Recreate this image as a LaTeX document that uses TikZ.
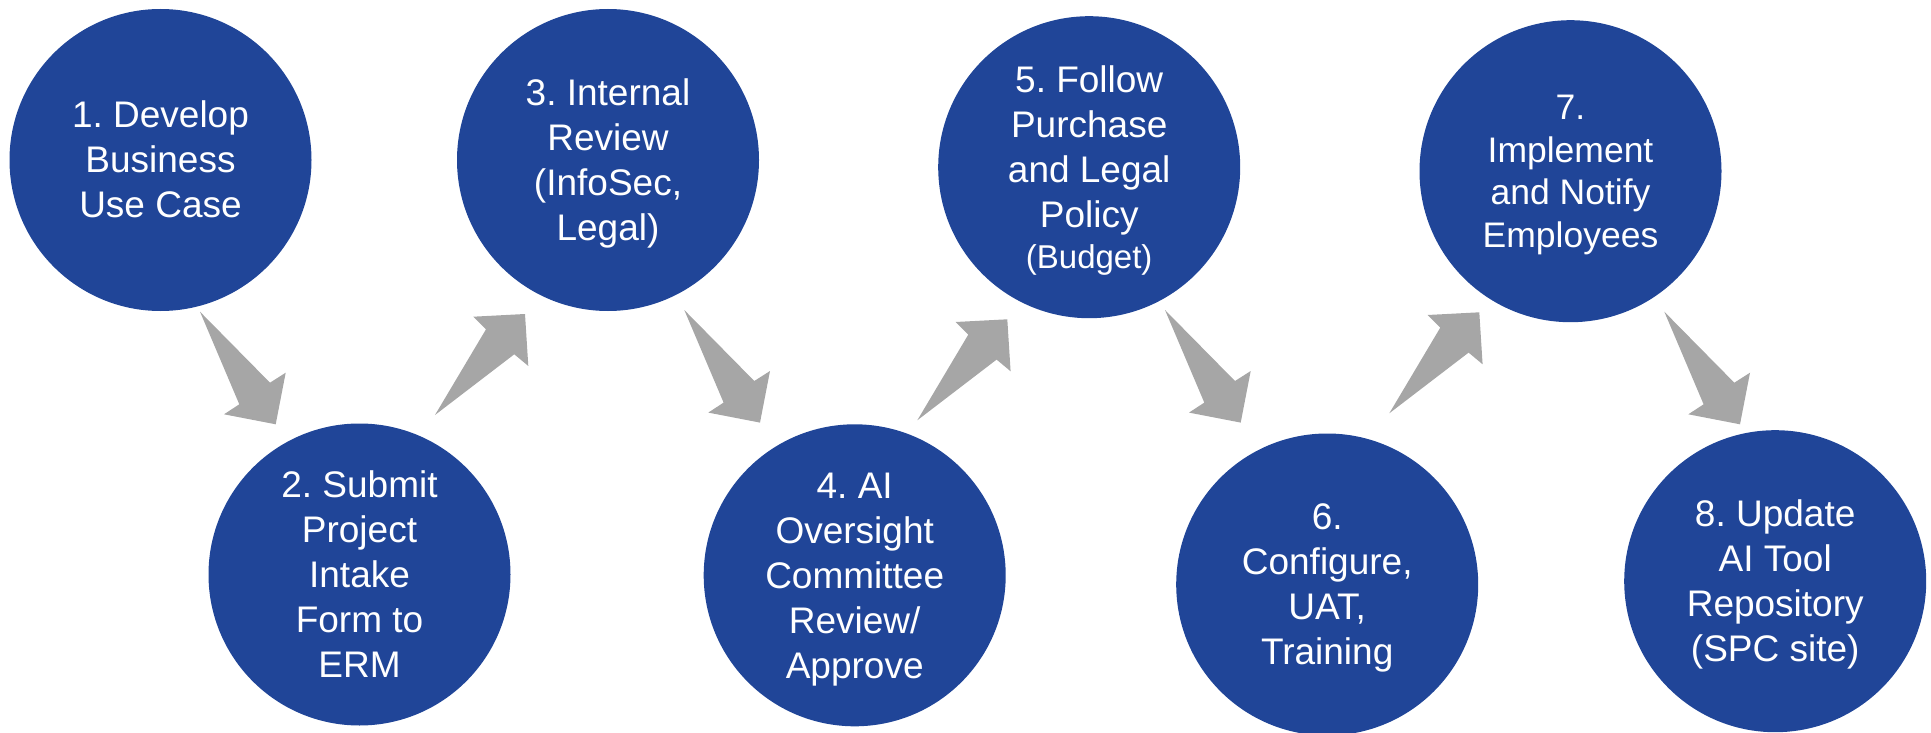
\documentclass[tikz,border=0pt]{standalone}
\usepackage{fontspec}
\setmainfont{Liberation Sans}
\frenchspacing
\definecolor{stepblue}{RGB}{32,69,152}
\definecolor{arrowgray}{RGB}{166,166,166}
% line box with Arial-like ascent and descent
\newcommand{\arialstrut}{\rule[-0.212em]{0pt}{1.117em}}
\begin{document}
\begin{tikzpicture}[x=1pt,y=-1pt,
  stepcircle/.style={circle, fill=stepblue, draw=none, minimum size=302pt,
    inner sep=0pt, text=white, align=center,
    font=\fontsize{37}{45}\selectfont\frenchspacing},
  pics/downarrow/.style={code={
    \fill[arrowgray] (0,0) -- (70,71) -- (85.7,61) -- (75.7,112.6)
      -- (24,102.6) -- (39.3,92.6) -- cycle;}},
  pics/uparrow/.style={code={
    \fill[arrowgray] (0,0) -- (79.3,-60.7) -- (93.3,-49) -- (90,-101)
      -- (38.3,-98.3) -- (51,-85.7) -- cycle;}}]
\useasboundingbox (0,0) rectangle (1931,733);

% process steps
\node[stepcircle] (c1) at (160.5,160) {\arialstrut 1. Develop\\\arialstrut Business\\\arialstrut Use Case};
\node[stepcircle] (c2) at (359.5,574.5) {\arialstrut 2. Submit\\\arialstrut Project\\\arialstrut Intake\\\arialstrut Form to\\\arialstrut ERM};
\node[stepcircle] (c3) at (608,160) {\arialstrut 3. Internal\\\arialstrut Review\\\arialstrut (InfoSec,\\\arialstrut Legal)};
\node[stepcircle] (c4) at (854.7,575.3) {\arialstrut 4. AI\\\arialstrut Oversight\\\arialstrut Committee\\\arialstrut Review/\\\arialstrut Approve};
\node[stepcircle] (c5) at (1089.2,167.2) {\arialstrut 5. Follow\\\arialstrut Purchase\\\arialstrut and Legal\\\arialstrut Policy\\[-3.3pt]{\fontsize{33}{41}\selectfont\arialstrut (Budget)}};
\node[stepcircle] (c6) at (1327.2,584.5) {\arialstrut 6.\\\arialstrut Configure,\\\arialstrut UAT,\\\arialstrut Training};
\node[stepcircle, font=\fontsize{35.5}{42.5}\selectfont\frenchspacing] (c7) at (1570.5,171.2) {\arialstrut 7.\\\arialstrut Implement\\\arialstrut and Notify\\\arialstrut Employees};
\node[stepcircle] (c8) at (1775.2,581.2) {\arialstrut 8. Update\\\arialstrut AI Tool\\\arialstrut Repository\\\arialstrut (SPC site)};

% block arrows between the steps
\coordinate (a12) at (200,311.7);
\coordinate (a23) at (435,415);
\coordinate (a34) at (684.3,310);
\coordinate (a45) at (917.3,420.3);
\coordinate (a56) at (1165,310);
\coordinate (a67) at (1389.3,413.3);
\coordinate (a78) at (1664.3,311.7);
\pic at (a12) {downarrow};
\pic at (a23) {uparrow};
\pic at (a34) {downarrow};
\pic at (a45) {uparrow};
\pic at (a56) {downarrow};
\pic at (a67) {uparrow};
\pic at (a78) {downarrow};
\end{tikzpicture}
\end{document}
